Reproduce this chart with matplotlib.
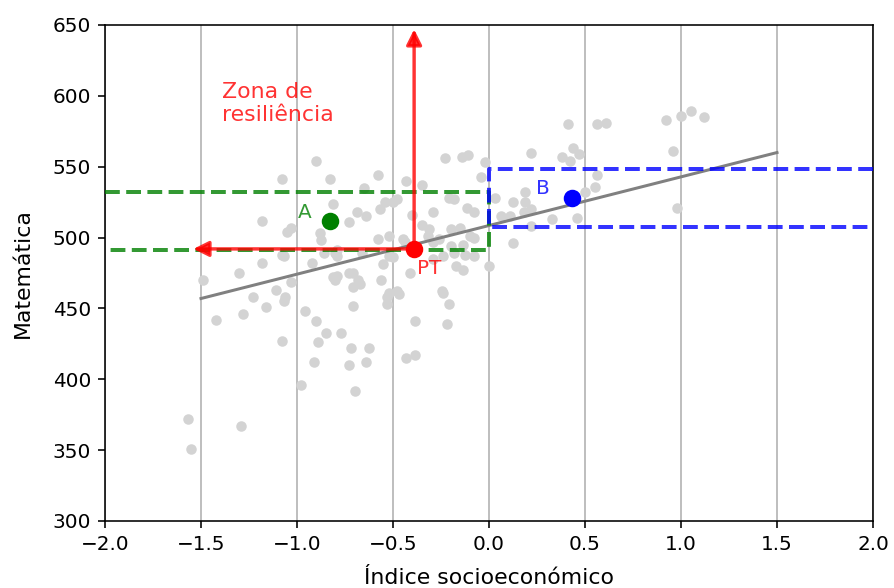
import matplotlib
matplotlib.use("Agg")
import matplotlib.pyplot as plt

# School-level results: socioeconomic index vs. mathematics score
ses = [-0.90, -1.08, -0.83, -0.58, -0.43, -0.23, -0.14, -0.11, -0.02, -0.04,
       0.03, -0.115, -0.29, -0.48, -0.54, -0.57, -0.69, -0.64, -0.73, -0.81,
       -1.18, -1.05, -1.03, -0.88, -0.875, -0.40, -0.31, -0.20, -0.15, -0.10,
       -0.58, -0.52, -1.08, -1.18, -0.92, -1.30, -1.49, -1.03, -0.79, -0.73,
       -0.55, -0.52, -0.29, -0.24, -0.17, -0.135, 0.0, -0.135, -0.20, -0.29,
       -0.35, -0.65, -0.50, -0.21, -0.18, -0.08, -0.35, -0.45, -0.44, -0.32,
       -0.26, -0.08, -0.79, -0.79, -0.66, -0.50, -0.18, -0.125, -0.08, -0.81,
       -0.71, -0.56, -0.41, -0.71, -0.67, -0.52, -0.48, -0.245, -0.86, -0.80,
       -1.07, -1.23, -1.11, -1.06, -1.07, -1.16, -1.42, -1.28, -1.08, -0.96,
       -0.90, -0.85, -0.89, -0.77, -0.72, -0.625, -0.91, -0.73, -0.64, -0.98,
       -0.70, -0.71, -0.68, -0.80, -0.53, -0.53, -0.47, -0.385, -0.43, -0.385,
       -0.24, -0.21, -0.22, -1.57, -1.55, -1.29, 0.06, 0.11, 0.125, 0.19,
       0.19, 0.18, 0.22, 0.22, 0.33, 0.22, 0.38, 0.42, 0.44, 0.41,
       0.47, 0.56, 0.55, 0.50, 0.46, 0.56, 0.61, 0.125, 0.92, 1.00,
       1.05, 1.12, 0.96, 0.98]
math = [554, 541, 541, 544, 540, 556, 557, 558, 553, 543,
        528, 521, 518, 527, 525, 520, 518, 515, 511, 524,
        512, 504, 507, 503, 498, 516, 506, 506, 507, 501,
        499, 501, 488, 482, 482, 475, 470, 469, 473, 475,
        481, 487, 485, 487, 480, 477, 480, 495, 494, 497,
        537, 535, 525, 528, 527, 518, 509, 499, 497, 501,
        499, 500, 491, 487, 489, 486, 489, 488, 487, 472,
        475, 470, 475, 465, 467, 461, 462, 462, 489, 489,
        487, 458, 463, 458, 455, 451, 442, 446, 427, 448,
        441, 433, 426, 433, 422, 422, 412, 410, 412, 396,
        392, 452, 470, 470, 458, 453, 460, 441, 415, 417,
        461, 453, 439, 372, 351, 367, 515, 515, 525, 525,
        532, 518, 520, 508, 513, 560, 557, 554, 563, 580,
        559, 544, 536, 532, 514, 580, 581, 496, 583, 586,
        589, 585, 561, 521]

# Fitted trend line endpoints
trend_x = [-1.5, 1.5]
trend_y = [457, 560]

# Highlighted schools
pt_x, pt_y = -0.39, 492
a_x, a_y = -0.83, 512
b_x, b_y = 0.43, 528
band_half = 20.5

fig = plt.figure(figsize=(894 / 144, 588 / 144), dpi=144)
ax = fig.add_axes([105 / 894, 1 - 521 / 588, 768 / 894, 496 / 588])

ax.grid(axis="x", color="#b0b0b0", linewidth=0.8)
ax.set_axisbelow(True)

ax.scatter(ses, math, s=18, color="lightgray", zorder=2)
ax.plot(trend_x, trend_y, color="gray", linewidth=1.5, zorder=3)

# Score band around school A (left of zero)
a_lo, a_hi = a_y - band_half, a_y + band_half
ax.plot([-2, 0, 0, -2], [a_hi, a_hi, a_lo, a_lo], linestyle="--",
        linewidth=2, color="green", alpha=0.8, zorder=4)
# Score band around school B (right of zero)
b_lo, b_hi = b_y - band_half, b_y + band_half
ax.plot([2, 0, 0, 2], [b_hi, b_hi, b_lo, b_lo], linestyle="--",
        linewidth=2, color="blue", alpha=0.8, zorder=4)

# Resilience zone arrows from PT
arrow_kw = dict(arrowstyle="-|>", color="red", alpha=0.8, lw=1.7,
                mutation_scale=16, shrinkA=0, shrinkB=0)
ax.annotate("", xy=(pt_x, 647), xytext=(pt_x, pt_y), arrowprops=arrow_kw,
            zorder=5)
ax.annotate("", xy=(-1.54, pt_y), xytext=(pt_x, pt_y), arrowprops=arrow_kw,
            zorder=5)

ax.scatter([pt_x], [pt_y], s=60, color="red", zorder=6)
ax.scatter([a_x], [a_y], s=60, color="green", zorder=6)
ax.scatter([b_x], [b_y], s=60, color="blue", zorder=6)

ax.text(-0.31, 478.5, "PT", color="red", alpha=0.8, fontsize=10,
        ha="center", va="center")
ax.text(-0.96, 518, "A", color="green", alpha=0.8, fontsize=10,
        ha="center", va="center")
ax.text(0.28, 534.5, "B", color="blue", alpha=0.8, fontsize=10,
        ha="center", va="center")
ax.text(-1.39, 582, "Zona de\nresiliência", color="red", alpha=0.8,
        fontsize=11, ha="left", va="baseline")

ax.set_xlim(-2, 2)
ax.set_ylim(300, 650)
ax.set_xticks([-2.0, -1.5, -1.0, -0.5, 0.0, 0.5, 1.0, 1.5, 2.0])
ax.set_yticks(range(300, 651, 50))
ax.set_xlabel("Índice socioeconómico", fontsize=11, labelpad=7)
ax.set_ylabel("Matemática", fontsize=11, labelpad=10)

fig.savefig("out.png", dpi=144)
